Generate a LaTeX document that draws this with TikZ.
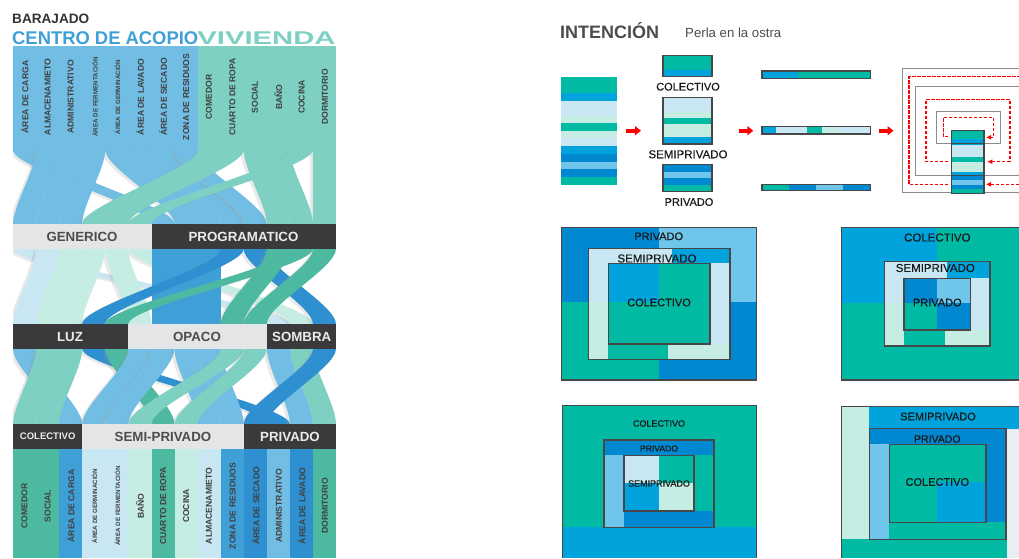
\documentclass[tikz,border=0pt]{standalone}
\usepackage{fontspec}
\setmainfont{Liberation Sans}
\newfontfamily\qfont[FakeBold=0.35]{Liberation Sans}
\usetikzlibrary{arrows.meta, positioning}
\definecolor{skyA}{HTML}{72BDE3}
\definecolor{greenA}{HTML}{7DD0C2}
\definecolor{paleblue}{HTML}{C9E7F2}
\definecolor{palemint}{HTML}{C6EDE4}
\definecolor{strongblue}{HTML}{3FA0D8}
\definecolor{deepblue}{HTML}{2E90D0}
\definecolor{deepgreen}{HTML}{4DB9A0}
\definecolor{darkband}{HTML}{3A3A3C}
\definecolor{paleband}{HTML}{E4E5E7}
\definecolor{qteal}{HTML}{00BAA3}
\definecolor{qsky}{HTML}{00A3DC}
\definecolor{qblue}{HTML}{0088D0}
\definecolor{qlight}{HTML}{70C6EA}
\tikzset{
  bandtext/.style={font=\bfseries\fontsize{13.3}{14}\selectfont, text=#1, inner sep=0pt},
  vlabel/.style={rotate=90, font=\bfseries\fontsize{8.6}{9}\selectfont, text=black!75, inner sep=0pt},
  vsmall/.style={rotate=90, font=\bfseries\fontsize{6.2}{7}\selectfont, text=black!75, inner sep=0pt},
  qlabel/.style={font=\qfont\fontsize{#1}{12}\selectfont, text=black!90, inner sep=0pt},
  boxline/.style={draw=black!72, line width=1.3pt},
  redarrow/.style={draw=red, line width=4pt, -{Triangle[length=6pt,width=9pt]}},
  reddash/.style={draw=red, line width=1.4pt, dash pattern=on 3.5pt off 1.5pt},
  graywall/.style={draw=black!45, line width=1pt},
}
% ribbon: top y, bottom y, from column, to column, colour
\newcommand{\ribbon}[5]{%
  \fill[#5, preaction={fill=black!40, opacity=.22, transform canvas={shift={(-3pt,-1.5pt)}}}]
    (13+23.07*#3,#1) .. controls (13+23.07*#3,{#1+.25*(#2-#1)}) and (13+23.07*#4,{#1+.75*(#2-#1)}) .. (13+23.07*#4,#2)
    -- (36.07+23.07*#4,#2) .. controls (36.07+23.07*#4,{#1+.75*(#2-#1)}) and (36.07+23.07*#3,{#1+.25*(#2-#1)}) .. (36.07+23.07*#3,#1) -- cycle;}
\begin{document}
\begin{tikzpicture}[x=1pt,y=-1pt]
    \useasboundingbox (0,0) rectangle (1019,558);
    % Titles
    \node[anchor=west, inner sep=0pt, font=\bfseries\fontsize{13.6}{14}\selectfont, text=black!80] (barajado) at (12,18.5) {BARAJADO};
    \node[anchor=west, inner sep=0pt, font=\bfseries\fontsize{18.4}{19}\selectfont, text=strongblue] (acopio) at (12,38.5) {CENTRO DE ACOPIO};
    \node[inner sep=0pt, xscale=1.59, font=\bfseries\fontsize{18.4}{19}\selectfont, text=greenA] (vivienda) at (266.5,38.5) {VIVIENDA};
    % Top block
    \fill[skyA] (13,46) rectangle (198,152);
    \fill[greenA] (198,46) rectangle (336,152);
    \begin{scope}
    \clip (13,150) rectangle (336,424);
    % Band 1
    \ribbon{150}{224}{6}{9}{skyA}
    \ribbon{150}{224}{7}{10}{skyA}
    \ribbon{150}{224}{5}{8}{skyA}
    \ribbon{150}{224}{4}{7}{skyA}
    \ribbon{150}{224}{0}{6}{skyA}
    \ribbon{150}{224}{3}{2}{skyA}
    \ribbon{150}{224}{2}{1}{skyA}
    \ribbon{150}{224}{1}{0}{skyA}
    \ribbon{150}{224}{13}{13}{greenA}
    \ribbon{150}{224}{11}{12}{greenA}
    \ribbon{150}{224}{10}{11}{greenA}
    \ribbon{150}{224}{12}{5}{greenA}
    \ribbon{150}{224}{9}{4}{greenA}
    \ribbon{150}{224}{8}{3}{greenA}
    % Band 2
    \ribbon{249}{324}{0}{11}{paleblue}
    \ribbon{249}{324}{5}{12}{palemint}
    \ribbon{249}{324}{4}{5}{palemint}
    \ribbon{249}{324}{3}{2}{palemint}
    \ribbon{249}{324}{2}{1}{palemint}
    \ribbon{249}{324}{1}{0}{paleblue}
    \ribbon{249}{324}{10}{13}{deepblue}
    \fill[strongblue] (152,249) rectangle (175,324);
    \fill[strongblue] (175,249) rectangle (198,324);
    \fill[strongblue] (198,249) rectangle (221,324);
    \ribbon{249}{324}{9}{3}{deepblue}
    \ribbon{249}{324}{12}{4}{deepgreen}
    \ribbon{249}{324}{11}{9}{deepgreen}
    \ribbon{249}{324}{13}{10}{deepgreen}
    % Band 3
    \ribbon{349}{424}{0}{2}{skyA}
    \ribbon{349}{424}{3}{11}{deepblue}
    \ribbon{349}{424}{4}{6}{deepgreen}
    \ribbon{349}{424}{12}{13}{greenA}
    \ribbon{349}{424}{11}{12}{skyA}
    \ribbon{349}{424}{8}{9}{skyA}
    \ribbon{349}{424}{5}{3}{skyA}
    \ribbon{349}{424}{6}{4}{skyA}
    \ribbon{349}{424}{7}{8}{skyA}
    \ribbon{349}{424}{9}{5}{greenA}
    \ribbon{349}{424}{10}{7}{greenA}
    \ribbon{349}{424}{13}{10}{deepblue}
    \ribbon{349}{424}{2}{1}{greenA}
    \ribbon{349}{424}{1}{0}{greenA}
    \end{scope}
    % Top labels
    \node[vlabel] (topCarga) at (24.5,97) {ÁREA DE CARGA};
    \node[vlabel] (topAlmacen) at (47.6,97) {ALMACENAMIETO};
    \node[vlabel] (topAdmin) at (70.7,97) {ADMINISTRATIVO};
    \node[vsmall] (topFerment) at (95,97) {ÁREA DE FERMENTACIÓN};
    \node[vsmall] (topGermin) at (117.3,97) {ÁREA DE GERMINACIÓN};
    \node[vlabel] (topLavado) at (140,97) {ÁREA DE LAVADO};
    \node[vlabel] (topSecado) at (163.2,97) {ÁREA DE SECADO};
    \node[vlabel] (topZona) at (186.2,97) {ZONA DE RESIDUOS};
    \node[vlabel] (topComedor) at (209,97) {COMEDOR};
    \node[vlabel] (topCuarto) at (232.3,97) {CUARTO DE ROPA};
    \node[vlabel] (topSocial) at (255,97) {SOCIAL};
    \node[vlabel] (topBano) at (278.3,97) {BAÑO};
    \node[vlabel] (topCocina) at (301.6,97) {COCINA};
    \node[vlabel] (topDormitorio) at (325,97) {DORMITORIO};
    % Row GENERICO / PROGRAMATICO
    \fill[paleband] (13,224) rectangle (152,249);
    \fill[darkband] (152,224) rectangle (336,249);
    \node[bandtext=black!70] (generico) at (82,236.7) {GENERICO};
    \node[bandtext=black!8] (programatico) at (243.5,236.7) {PROGRAMATICO};
    % Row LUZ / OPACO / SOMBRA
    \fill[darkband] (13,324) rectangle (128,349);
    \fill[paleband] (128,324) rectangle (267,349);
    \fill[darkband] (267,324) rectangle (336,349);
    \node[bandtext=black!8] (luz) at (70,336.7) {LUZ};
    \node[bandtext=black!70] (opaco) at (197,336.7) {OPACO};
    \node[bandtext=black!8] (sombra) at (301.7,336.7) {SOMBRA};
    % Row COLECTIVO / SEMI-PRIVADO / PRIVADO
    \fill[darkband] (13,424) rectangle (82,449);
    \fill[paleband] (82,424) rectangle (244,449);
    \fill[darkband] (244,424) rectangle (336,449);
    \node[bandtext=black!8, font=\bfseries\fontsize{9.5}{10}\selectfont] (colectivo) at (47.7,436.5) {COLECTIVO};
    \node[bandtext=black!70] (semiprivado) at (163,436.5) {SEMI-PRIVADO};
    \node[bandtext=black!8] (privado) at (290,436.5) {PRIVADO};
    % Bottom columns
    \fill[deepgreen] (13,449) rectangle (59,558);
    \fill[strongblue] (59,449) rectangle (82,558);
    \fill[paleblue] (82,449) rectangle (128,558);
    \fill[palemint] (128,449) rectangle (152,558);
    \fill[deepgreen] (152,449) rectangle (175,558);
    \fill[palemint] (175,449) rectangle (198,558);
    \fill[paleblue] (198,449) rectangle (221,558);
    \fill[strongblue] (221,449) rectangle (244,558);
    \fill[deepblue] (244,449) rectangle (267,558);
    \fill[skyA] (267,449) rectangle (290,558);
    \fill[deepblue] (290,449) rectangle (313,558);
    \fill[deepgreen] (313,449) rectangle (336,558);
    % Bottom labels
    \node[vlabel] (botComedor) at (24.5,506) {COMEDOR};
    \node[vlabel] (botSocial) at (47.6,506) {SOCIAL};
    \node[vlabel] (botCarga) at (70.7,506) {ÁREA DE CARGA};
    \node[vsmall] (botGermin) at (94.5,506) {ÁREA DE GERMINACIÓN};
    \node[vsmall] (botFerment) at (117.3,506) {ÁREA DE FERMENTACIÓN};
    \node[vlabel] (botBano) at (140,506) {BAÑO};
    \node[vlabel] (botCuarto) at (163.2,506) {CUARTO DE ROPA};
    \node[vlabel] (botCocina) at (186.2,506) {COCINA};
    \node[vlabel] (botAlmacen) at (209,506) {ALMACENAMIETO};
    \node[vlabel] (botZona) at (232.6,506) {ZONA DE RESIDUOS};
    \node[vlabel] (botSecado) at (255.6,506) {ÁREA DE SECADO};
    \node[vlabel] (botAdmin) at (279,506) {ADMINISTRATIVO};
    \node[vlabel] (botLavado) at (301.6,506) {ÁREA DE LAVADO};
    \node[vlabel] (botDormitorio) at (325,506) {DORMITORIO};
    % Right header
    \node[anchor=west, inner sep=0pt, font=\bfseries\fontsize{18}{19}\selectfont, text=black!70] (intencion) at (560,30.5) {INTENCIÓN};
    \node[anchor=west, inner sep=0pt, font=\fontsize{13.2}{14}\selectfont, text=black!70] (perla) at (685,32.5) {Perla en la ostra};
    % Stack
    \fill[qteal] (561,76.7) rectangle (617,92.7);
    \fill[qsky] (561,92.7) rectangle (617,100.7);
    \fill[paleblue] (561,100.7) rectangle (617,116);
    \fill[palemint] (561,116) rectangle (617,123.3);
    \fill[qteal] (561,123.3) rectangle (617,131.3);
    \fill[palemint] (561,131.3) rectangle (617,138.3);
    \fill[paleblue] (561,138.3) rectangle (617,146);
    \fill[qsky] (561,146) rectangle (617,154);
    \fill[qblue] (561,154) rectangle (617,162);
    \fill[qlight] (561,162) rectangle (617,169.3);
    \fill[qblue] (561,169.3) rectangle (617,177.3);
    \fill[qteal] (561,177.3) rectangle (617,184.7);
    % Arrows
    \draw[redarrow] (626,130.7) -- (641,130.7);
    \draw[redarrow] (738.7,130.7) -- (753.3,130.7);
    \draw[redarrow] (879,130.7) -- (893.5,130.7);
    % Small boxes
    \fill[qteal] (663,55.7) rectangle (712,70);
    \fill[qsky] (663,70) rectangle (712,76.7);
    \draw[boxline] (663,55.7) rectangle (712,76.7);
    \node[qlabel=11] (lblCol) at (688,86.7) {COLECTIVO};
    \fill[paleblue] (663,97.3) rectangle (712,111.7);
    \fill[palemint] (663,111.7) rectangle (712,117.7);
    \fill[qteal] (663,117.7) rectangle (712,124.3);
    \fill[palemint] (663,124.3) rectangle (712,137.3);
    \fill[qsky] (663,137.3) rectangle (712,144);
    \draw[boxline] (663,97.3) rectangle (712,144);
    \node[qlabel=11.5] (lblSemi) at (688,154.3) {SEMIPRIVADO};
    \fill[qblue] (663,164.7) rectangle (712,172);
    \fill[qlight] (663,172) rectangle (712,178.3);
    \fill[qblue] (663,178.3) rectangle (712,185);
    \fill[qteal] (663,185) rectangle (712,191.7);
    \draw[boxline] (663,164.7) rectangle (712,191.7);
    \node[qlabel=11] (lblPri) at (689,202) {PRIVADO};
    % Bars
    \fill[qsky] (762,71) rectangle (798,78.7);
    \fill[qteal] (798,71) rectangle (870.7,78.7);
    \draw[boxline] (762,71) rectangle (870.7,78.7);
    \fill[qsky] (762,126.7) rectangle (776,134);
    \fill[paleblue] (776,126.7) rectangle (806.7,134);
    \fill[qteal] (806.7,126.7) rectangle (821.7,134);
    \fill[palemint] (821.7,126.7) rectangle (836.7,134);
    \fill[paleblue] (836.7,126.7) rectangle (870.7,134);
    \draw[boxline] (762,126.7) rectangle (870.7,134);
    \fill[qteal] (762,184.7) rectangle (788.7,190.7);
    \fill[qblue] (788.7,184.7) rectangle (816,190.7);
    \fill[qlight] (816,184.7) rectangle (842.7,190.7);
    \fill[qblue] (842.7,184.7) rectangle (870.7,190.7);
    \draw[boxline] (762,184.7) rectangle (870.7,190.7);
    % Spiral
    \draw[graywall] (1019,68.3) -- (902.7,68.3) -- (902.7,192.7) -- (1019,192.7);
    \draw[graywall] (1019,86.7) -- (915,86.7) -- (915,175) -- (1019,175);
    \draw[graywall] (936,111.7) rectangle (1000,143.3);
    \draw[reddash] (948.3,184.3) -- (909,184.3) -- (909,76.7) -- (1019,76.7);
    \draw[reddash, -{Latex[length=5pt,width=5pt]}] (1019,184.3) -- (986,184.3);
    \draw[reddash] (948.3,161.7) -- (926,161.7) -- (926,99.3) -- (1010,99.3) -- (1010,161.7);
    \draw[reddash, -{Latex[length=5pt,width=5pt]}] (1010,161.7) -- (987.3,161.7);
    \draw[reddash] (948.3,136.7) -- (943.3,136.7) -- (943.3,117.3) -- (993.3,117.3) -- (993.3,137.3);
    \draw[reddash, -{Latex[length=5pt,width=5pt]}] (993.3,137.3) -- (986,137.3);
    \fill[qteal] (951.7,130.7) rectangle (984,139.3);
    \fill[qsky] (951.7,139.3) rectangle (984,145);
    \fill[paleblue] (951.7,145) rectangle (984,157.3);
    \fill[qteal] (951.7,157.3) rectangle (984,162);
    \fill[palemint] (951.7,162) rectangle (984,171.7);
    \fill[qsky] (951.7,171.7) rectangle (984,175.7);
    \fill[qblue] (951.7,175.7) rectangle (984,180);
    \fill[qlight] (951.7,180) rectangle (984,185);
    \fill[qblue] (951.7,185) rectangle (984,189.3);
    \fill[qteal] (951.7,189.3) rectangle (984,193.3);
    \draw[boxline] (951.7,130.7) rectangle (984,193.3);
    \draw[boxline, line width=1pt] (951.7,143.3) -- (984,143.3);
    \draw[boxline, line width=1pt] (951.7,175.7) -- (984,175.7);
    % Square 1
    \fill[qblue] (561.7,227.3) rectangle (659,301.7);
    \fill[qlight] (659,227.3) rectangle (756.7,301.7);
    \fill[qteal] (561.7,301.7) rectangle (659,380);
    \fill[qblue] (659,301.7) rectangle (756.7,380);
    \draw[boxline] (561.7,227.3) rectangle (756.7,380);
    \fill[paleblue] (588.3,248.3) rectangle (730,301.7);
    \fill[palemint] (588.3,301.7) rectangle (730,359.3);
    \fill[paleblue] (659,301.7) rectangle (730,344);
    \fill[qsky] (671.7,248.3) rectangle (730,263.3);
    \fill[qteal] (608.3,344) rectangle (668.3,359.3);
    \draw[boxline] (588.3,248.3) rectangle (730,359.3);
    \fill[qteal] (608.3,263.3) rectangle (710,344);
    \fill[qsky] (608.3,263.3) rectangle (659,301.7);
    \draw[boxline] (608.3,263.3) rectangle (710,344);
    \node[qlabel=11] (sqaPri) at (658.7,236.3) {PRIVADO};
    \node[qlabel=11.5] (sqaSemi) at (657,258.5) {SEMIPRIVADO};
    \node[qlabel=11] (sqaCol) at (659,302.5) {COLECTIVO};
    % Square 2
    \fill[qsky] (841.7,227.3) rectangle (937.3,303.3);
    \fill[qteal] (937.3,227.3) rectangle (1019,380);
    \fill[qteal] (841.7,303.3) rectangle (937.3,380);
    \draw[boxline] (1019,227.3) -- (841.7,227.3) -- (841.7,380) -- (1019,380);
    \fill[paleblue] (884.3,261.3) rectangle (990,303.3);
    \fill[palemint] (884.3,303.3) rectangle (904,346);
    \fill[paleblue] (970.7,278.3) rectangle (990,330);
    \fill[qsky] (947,261.3) rectangle (990,278.3);
    \fill[qteal] (904,330) rectangle (945,346);
    \fill[palemint] (945,330) rectangle (990,346);
    \draw[boxline] (884.3,261.3) rectangle (990,346);
    \fill[qblue] (904,278.3) rectangle (937.3,303);
    \fill[qlight] (937.3,278.3) rectangle (970.7,303);
    \fill[qteal] (904,303) rectangle (937.3,330);
    \fill[qblue] (937.3,303) rectangle (970.7,330);
    \draw[boxline] (904,278.3) rectangle (970.7,330);
    \node[qlabel=11.5] (sqbCol) at (937.3,237.5) {COLECTIVO};
    \node[qlabel=11.5] (sqbSemi) at (935.3,268) {SEMIPRIVADO};
    \node[qlabel=11] (sqbPri) at (937.3,302.5) {PRIVADO};
    % Square 3
    \fill[qteal] (562.3,405.7) rectangle (756.7,526.7);
    \fill[qsky] (562.3,526.7) rectangle (756.7,558);
    \draw[boxline] (562.3,558) -- (562.3,405.7) -- (756.7,405.7) -- (756.7,558);
    \fill[qblue] (604,440) rectangle (714,527.3);
    \fill[qlight] (604,455) rectangle (624,527.3);
    \fill[qteal] (694,455) rectangle (714,511);
    \draw[boxline] (604,440) rectangle (714,527.3);
    \fill[paleblue] (624,455.7) rectangle (659,483.3);
    \fill[qteal] (659,455.7) rectangle (694,483.3);
    \fill[qsky] (624,483.3) rectangle (659,511);
    \fill[palemint] (659,483.3) rectangle (694,511);
    \draw[boxline] (624,455.7) rectangle (694,511);
    \node[qlabel=9] (sqcCol) at (659,423.5) {COLECTIVO};
    \node[qlabel=8.6] (sqcPri) at (659,448.5) {PRIVADO};
    \node[qlabel=9] (sqcSemi) at (659,483.5) {SEMIPRIVADO};
    % Square 4
    \fill[palemint] (841.7,406.3) rectangle (869.3,539);
    \fill[qsky] (869.3,406.3) rectangle (1019,428.7);
    \fill[qteal] (841.7,539) rectangle (1006.7,558);
    \fill[paleblue!70!gray!30] (1006.7,428.7) rectangle (1019,558);
    \draw[boxline] (1019,406.3) -- (841.7,406.3) -- (841.7,558);
    \fill[qblue] (869.3,428.7) rectangle (1006,539.7);
    \fill[qlight] (869.3,444) rectangle (889.3,539.7);
    \fill[qteal] (889.3,522) rectangle (1006,539.7);
    \draw[boxline] (869.3,428.7) rectangle (1006,539.7);
    \fill[qteal] (889.3,444.7) rectangle (986,522.7);
    \fill[qsky] (937.3,482) rectangle (986,522.7);
    \draw[boxline] (889.3,444.7) rectangle (986,522.7);
    \node[qlabel=11] (sqdSemi) at (938,416.5) {SEMIPRIVADO};
    \node[qlabel=10.5] (sqdPri) at (937.3,439) {PRIVADO};
    \node[qlabel=11] (sqdCol) at (937.3,482) {COLECTIVO};
\end{tikzpicture}
\end{document}
